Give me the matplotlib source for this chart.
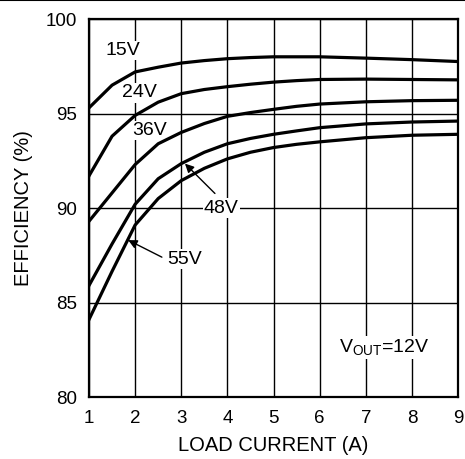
import matplotlib
matplotlib.use('Agg')
import matplotlib.pyplot as plt

plt.rcParams['font.family'] = ['Liberation Sans', 'DejaVu Sans']

# load current (A)
load = [1, 1.5, 2, 2.5, 3, 3.5, 4, 4.5, 5, 5.5, 6, 7, 8, 9]

# efficiency (%) per input voltage
eff_15v = [95.3, 96.5, 97.2, 97.45, 97.67, 97.8, 97.9, 97.96, 98.0, 98.0, 98.0, 97.93, 97.85, 97.75]
eff_24v = [91.7, 93.8, 94.9, 95.6, 96.05, 96.27, 96.42, 96.55, 96.66, 96.74, 96.8, 96.82, 96.8, 96.78]
eff_36v = [89.3, 90.8, 92.3, 93.4, 94.0, 94.47, 94.85, 95.05, 95.22, 95.38, 95.5, 95.62, 95.68, 95.7]
eff_48v = [85.9, 88.1, 90.2, 91.55, 92.35, 92.95, 93.4, 93.68, 93.9, 94.08, 94.25, 94.45, 94.55, 94.6]
eff_55v = [84.1, 86.65, 89.1, 90.5, 91.45, 92.1, 92.6, 92.95, 93.2, 93.37, 93.5, 93.72, 93.85, 93.9]

fig = plt.figure(figsize=(4.65, 4.59), dpi=100)
ax = fig.add_axes([0.1914, 0.135, 0.7936, 0.8236])

# top rule of the page
fig.add_artist(plt.Line2D([0, 1], [0.999, 0.999], color='black', lw=1.5,
                          transform=fig.transFigure))

for eff in (eff_15v, eff_24v, eff_36v, eff_48v, eff_55v):
    ax.plot(load, eff, color='black', lw=2.3, solid_joinstyle='round', zorder=3)

ax.set_xlim(1, 9)
ax.set_ylim(80, 100)
ax.set_xticks(range(1, 10))
ax.set_yticks([80, 85, 90, 95, 100])
ax.grid(True, color='black', lw=1.0, zorder=1)
ax.set_axisbelow(True)
ax.tick_params(length=0, labelsize=13.5)
ax.tick_params(axis='x', pad=9)
ax.tick_params(axis='y', pad=8.5)
for s in ax.spines.values():
    s.set_linewidth(1.6)

ax.set_xlabel('LOAD CURRENT (A)', fontsize=14.5, labelpad=7)
ax.set_ylabel('EFFICIENCY (%)', fontsize=14.5, labelpad=9)

box = dict(facecolor='white', edgecolor='none', pad=1)
ax.text(1.74, 98.33, '15V', fontsize=14, ha='center', va='center', bbox=box, zorder=2)
ax.text(2.1, 96.1, '24V', fontsize=14, ha='center', va='center', bbox=box, zorder=2)
ax.text(2.32, 94.1, '36V', fontsize=14, ha='center', va='center', bbox=box, zorder=2)
ax.text(3.87, 90.0, '48V', fontsize=14, ha='center', va='center', bbox=box, zorder=2)
ax.text(3.08, 87.3, '55V', fontsize=14, ha='center', va='center', bbox=box, zorder=2)
ax.text(7.4, 82.6, r'V$_{\mathregular{OUT}}$=12V', fontsize=14, ha='center', va='center',
        bbox=box, zorder=2)

arrow = dict(arrowstyle='-|>', color='black', lw=1.0, mutation_scale=13, shrinkA=0, shrinkB=0)
ax.annotate('', xy=(3.08, 92.35), xytext=(3.73, 90.77), arrowprops=arrow, zorder=4)
ax.annotate('', xy=(1.85, 88.3), xytext=(2.58, 87.4), arrowprops=arrow, zorder=4)

fig.savefig('out.png', dpi=100)
